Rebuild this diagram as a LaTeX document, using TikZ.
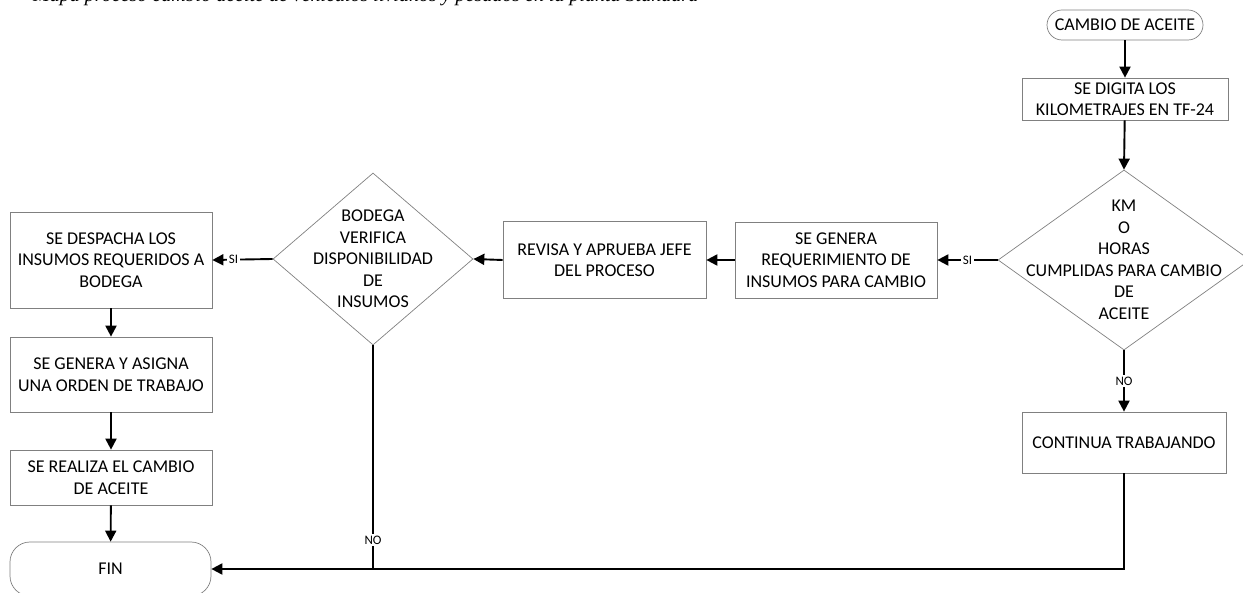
\documentclass[tikz,border=0pt]{standalone}
\usepackage{fontspec}
\setmainfont{Carlito}
\newfontfamily\titlefont{Liberation Serif}
\usetikzlibrary{shapes.geometric,arrows.meta}

\tikzset{
  procbox/.style={draw=black!50, line width=0.7pt, fill=white, align=center,
    inner sep=2pt, font=\fontsize{18}{21.5}\selectfont},
  termbox/.style={procbox, rounded corners=#1},
  decision/.style={diamond, draw=black!50, line width=0.7pt, inner sep=0pt},
  dtext/.style={align=center, font=\fontsize{18}{21.5}\selectfont},
  flow/.style={draw=black, line width=1.9pt, -{Triangle[length=11pt,width=11pt]}},
  plainflow/.style={draw=black, line width=1.5pt},
  lbl/.style={fill=white, inner sep=1.5pt, font=\fontsize{13}{14}\selectfont}
}

\begin{document}
\begin{tikzpicture}[x=1pt,y=-1pt]
\useasboundingbox (0,0) rectangle (1243,593);
\clip (0,0) rectangle (1243,593);

% caption line, cut at the top edge of the page
\node[anchor=base west, inner sep=0pt, font=\titlefont\itshape\fontsize{20}{22}\selectfont]
  (title) at (33,1.5) {Mapa proceso cambio aceite de vehículos livianos y pesados en la planta Standard};

% right column
\node[termbox=15pt, minimum width=156pt, minimum height=30pt] (start) at (1125,25) {CAMBIO DE ACEITE};
\node[procbox, minimum width=206pt, minimum height=42pt] (digita) at (1125,99)
  {SE DIGITA LOS\\KILOMETRAJES EN TF-24};
\node[decision, minimum width=252pt, minimum height=180pt] (d1) at (1124,260) {};
\node[dtext] (d1t) at (d1.center) {KM\\O\\HORAS\\CUMPLIDAS PARA CAMBIO\\DE\\ACEITE};
\node[procbox, minimum width=204pt, minimum height=61pt] (cont) at (1124,442.5) {CONTINUA TRABAJANDO};

% middle row
\node[procbox, minimum width=202pt, minimum height=76pt] (gen) at (836,260)
  {SE GENERA\\REQUERIMIENTO DE\\INSUMOS PARA CAMBIO};
\node[procbox, minimum width=203pt, minimum height=77pt] (rev) at (604.5,260)
  {REVISA Y APRUEBA JEFE\\DEL PROCESO};
\node[decision, minimum width=200pt, minimum height=172pt] (d2) at (373,259) {};
\node[dtext] (d2t) at (d2.center) {BODEGA\\VERIFICA\\DISPONIBILIDAD\\DE\\INSUMOS};

% left column
\node[procbox, minimum width=202pt, minimum height=96pt] (desp) at (111,260)
  {SE DESPACHA LOS\\INSUMOS REQUERIDOS A\\BODEGA};
\node[procbox, minimum width=202pt, minimum height=75pt] (asig) at (111,374.5)
  {SE GENERA Y ASIGNA\\UNA ORDEN DE TRABAJO};
\node[procbox, minimum width=202pt, minimum height=55pt] (real) at (111,477.5)
  {SE REALIZA EL CAMBIO\\DE ACEITE};
\node[termbox=20pt, minimum width=201pt, minimum height=54pt] (fin) at (110.5,569) {FIN};

% connectors
\draw[flow] (start) -- (digita);
\draw[flow] (digita) -- (d1.north);
\draw[flow] (d1.west) -- node[lbl] {SI} (gen.east);
\draw[flow] (d1.south) -- node[lbl] {NO} (cont.north);
\draw[flow] (gen.west) -- (rev.east);
\draw[flow] (rev.west) -- (d2.east);
\draw[flow] (d2.west) -- node[lbl, pos=0.65] {SI} (desp.east);
\draw[flow] (desp) -- (asig);
\draw[flow] (asig) -- (real);
\draw[flow] (real) -- (fin);
\draw[plainflow] (d2.south) -- node[lbl, pos=0.87] {NO} (d2.south |- fin.east);
\draw[flow] (cont.south) |- (fin.east);
\end{tikzpicture}
\end{document}
